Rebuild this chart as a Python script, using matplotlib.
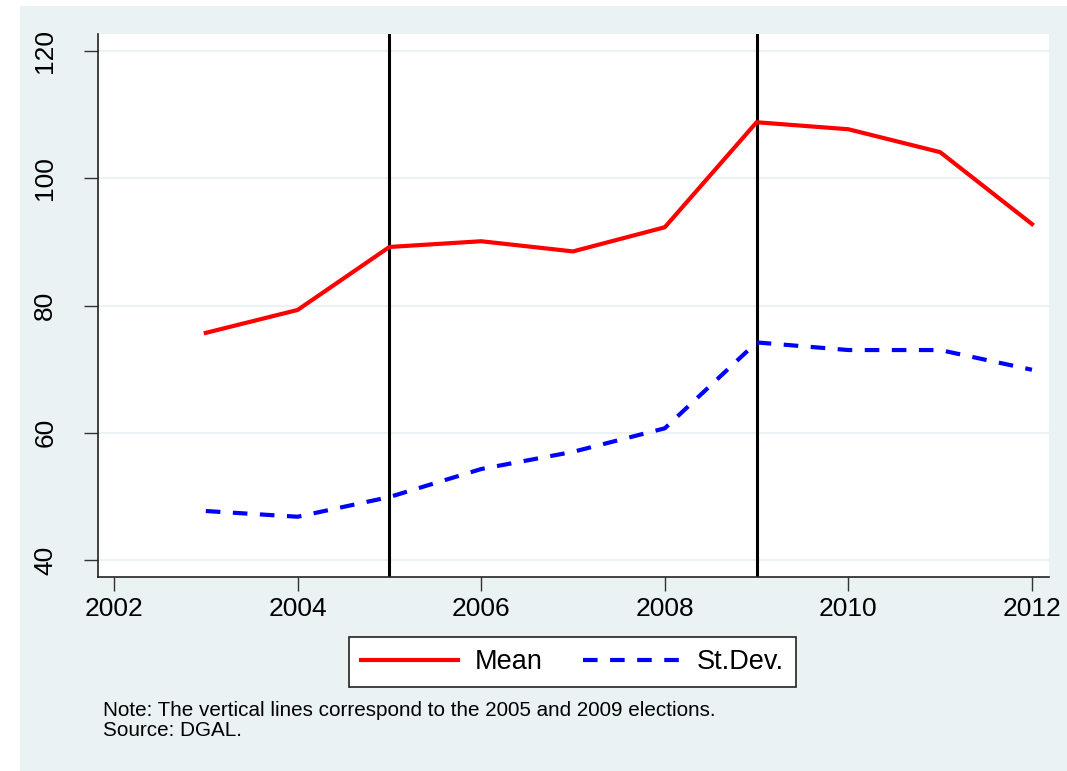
import matplotlib.pyplot as plt
from matplotlib.patches import Rectangle

# Yearly mean and standard deviation
years = [2003, 2004, 2005, 2006, 2007, 2008, 2009, 2010, 2011, 2012]
mean_vals = [75.7, 79.3, 89.2, 90.1, 88.5, 92.3, 108.8, 107.7, 104.1, 92.8]
sd_vals = [47.7, 46.8, 49.9, 54.3, 57.0, 60.7, 74.2, 73.0, 73.0, 69.9]
election_years = [2005, 2009]
x_ticks = [2002, 2004, 2006, 2008, 2010, 2012]
y_ticks = [40, 60, 80, 100, 120]

plt.rcParams["font.family"] = ["Liberation Sans", "DejaVu Sans"]
bg = "#eaf2f3"

W, H = 1067, 771
fig = plt.figure(figsize=(W / 100, H / 100), dpi=100, facecolor="white")
fig.patches.append(Rectangle((20 / W, 0), 1 - 20 / W, 1 - 6 / H,
                             transform=fig.transFigure, facecolor=bg,
                             edgecolor="none", zorder=-10))

left, right, top, bottom = 97.5, 1048.5, 34, 577
ax = fig.add_axes([left / W, 1 - bottom / H, (right - left) / W, (bottom - top) / H])
ax.set_facecolor("white")

for yv in y_ticks:
    ax.axhline(yv, color=bg, lw=1.5, zorder=1)
for xv in election_years:
    ax.axvline(xv, color="black", lw=2.2, zorder=2)

ax.plot(years, mean_vals, color="red", lw=3, label="Mean", zorder=3)
ax.plot(years, sd_vals, color="blue", lw=3, ls=(0, (3.5, 3)), label="St.Dev.", zorder=3)

ax.set_xlim(2001.82, 2012.18)
ax.set_ylim(37.33, 122.67)
ax.set_xticks(x_ticks)
ax.set_yticks(y_ticks)
ax.tick_params(axis="both", labelsize=19, length=10, width=1, color="#333333")
ax.tick_params(axis="x", pad=4.5)
ax.tick_params(axis="y", pad=19)
for lbl in ax.get_yticklabels():
    lbl.set_rotation(90)
    lbl.set_va("center")

ax.spines["top"].set_visible(False)
ax.spines["right"].set_visible(False)
for s in ("left", "bottom"):
    ax.spines[s].set_linewidth(1.2)
    ax.spines[s].set_color("#222222")

leg = fig.legend(loc="center", bbox_to_anchor=((347 + 798) / 2 / W, 1 - 662 / H),
                 ncol=2, fontsize=19.5, frameon=True, fancybox=False, framealpha=1,
                 handlelength=3.6, columnspacing=1.5, handletextpad=0.6,
                 borderpad=0.45)
leg.get_frame().set_facecolor("white")
leg.get_frame().set_edgecolor("#222222")
leg.get_frame().set_linewidth(1.2)

fig.text(103 / W, 1 - 710 / H, "Note: The vertical lines correspond to the 2005 and 2009 elections.",
         fontsize=14.9, va="center", ha="left")
fig.text(103 / W, 1 - 731 / H, "Source: DGAL.", fontsize=14.9, va="center", ha="left")

fig.savefig("out.png", dpi=100, facecolor="white")
